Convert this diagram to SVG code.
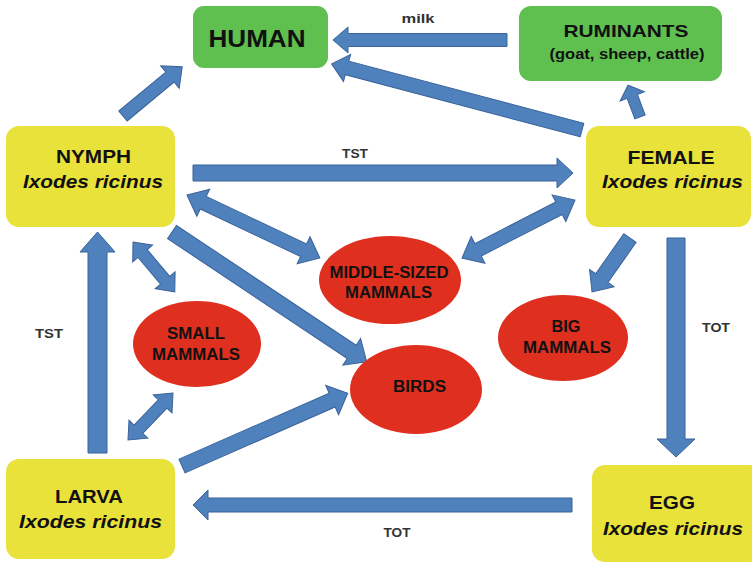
<svg xmlns="http://www.w3.org/2000/svg" width="752" height="564" viewBox="0 0 752 564">
  <style>
    .green { fill: #5fbf4f; }
    .yellow { fill: #e9e23a; }
    .red { fill: #de2f1f; }
    .arrow { fill: #4f81bd; stroke: #3a639a; stroke-width: 1; stroke-linejoin: miter; }
    text { font-family: "Liberation Sans", Arial, sans-serif; font-weight: bold; fill: #111; text-anchor: middle; }
    .title { font-size: 18px; }
    .species { font-size: 18px; font-style: italic; }
    .host { font-size: 16px; }
    .label { font-size: 13.5px; fill: #333; }
  </style>

  <rect width="752" height="564" fill="#ffffff"/>

  <!-- connectors: block arrows drawn along +x, then placed and rotated -->
  <g id="connectors">
    <!-- milk: ruminants to human -->
    <polygon class="arrow" transform="translate(507,40) rotate(180)" points="0,-6.5 159,-6.5 159,-13 174,0 159,13 159,6.5 0,6.5"/>
    <!-- female to human -->
    <polygon class="arrow" transform="translate(582,130) rotate(194.8)" points="0,-7 243,-7 243,-14 259,0 243,14 243,7 0,7"/>
    <!-- nymph to human -->
    <polygon class="arrow" transform="translate(123,116) rotate(-39.7)" points="0,-6.5 61,-6.5 61,-14.5 77,0 61,14.5 61,6.5 0,6.5"/>
    <!-- female to ruminants -->
    <polygon class="arrow" transform="translate(640,117) rotate(-110.6)" points="0,-5.5 22,-5.5 22,-13 34,0 22,13 22,5.5 0,5.5"/>
    <!-- TST: nymph to female -->
    <polygon class="arrow" transform="translate(193,173)" points="0,-8 364,-8 364,-15 380,0 364,15 364,8 0,8"/>
    <!-- nymph <-> middle-sized mammals -->
    <polygon class="arrow" transform="translate(187,195) rotate(25.35)" points="0,0 18,-15 18,-7 129,-7 129,-15 147,0 129,15 129,7 18,7 18,15"/>
    <!-- female <-> middle-sized mammals -->
    <polygon class="arrow" transform="translate(575,200) rotate(152.8)" points="0,0 18,-15 18,-7 109,-7 109,-15 127,0 109,15 109,7 18,7 18,15"/>
    <!-- nymph <-> small mammals -->
    <polygon class="arrow" transform="translate(133,242) rotate(50)" points="0,0 15,-13 15,-6 50,-6 50,-13 65,0 50,13 50,6 15,6 15,13"/>
    <!-- nymph to birds -->
    <polygon class="arrow" transform="translate(172,232) rotate(33.7)" points="0,-8 216,-8 216,-16 234,0 216,16 216,8 0,8"/>
    <!-- female to big mammals -->
    <polygon class="arrow" transform="translate(630,238) rotate(125.1)" points="0,-7.5 49,-7.5 49,-15 66,0 49,15 49,7.5 0,7.5"/>
    <!-- TOT: female to egg -->
    <polygon class="arrow" transform="translate(676,238) rotate(90)" points="0,-9 201,-9 201,-19 219,0 201,19 201,9 0,9"/>
    <!-- TOT: egg to larva -->
    <polygon class="arrow" transform="translate(572,505) rotate(180)" points="0,-7 364,-7 364,-15 379,0 364,15 364,7 0,7"/>
    <!-- TST: larva to nymph -->
    <polygon class="arrow" transform="translate(97.5,453) rotate(-90)" points="0,-9.5 201,-9.5 201,-17.5 221,0 201,17.5 201,9.5 0,9.5"/>
    <!-- larva <-> small mammals -->
    <polygon class="arrow" transform="translate(128,440) rotate(-46.2)" points="0,0 15,-13 15,-6 50,-6 50,-13 65,0 50,13 50,6 15,6 15,13"/>
    <!-- larva to birds -->
    <polygon class="arrow" transform="translate(182,466) rotate(-23.7)" points="0,-7.5 164,-7.5 164,-16 181,0 164,16 164,7.5 0,7.5"/>

    <text class="label" x="418" y="23" textLength="33" lengthAdjust="spacingAndGlyphs">milk</text>
    <text class="label" x="355" y="158" textLength="26" lengthAdjust="spacingAndGlyphs">TST</text>
    <text class="label" x="49" y="338" textLength="28" lengthAdjust="spacingAndGlyphs">TST</text>
    <text class="label" x="716" y="332" textLength="28" lengthAdjust="spacingAndGlyphs">TOT</text>
    <text class="label" x="397" y="537" textLength="27" lengthAdjust="spacingAndGlyphs">TOT</text>
  </g>

  <!-- hosts -->
  <g id="human">
    <rect class="green" x="193" y="6" width="135" height="62" rx="11"/>
    <text x="257" y="47" font-size="24" textLength="97" lengthAdjust="spacingAndGlyphs">HUMAN</text>
  </g>
  <g id="ruminants">
    <rect class="green" x="519" y="6" width="203" height="75" rx="12"/>
    <text x="626" y="37" font-size="17" textLength="125" lengthAdjust="spacingAndGlyphs">RUMINANTS</text>
    <text x="627" y="59" font-size="14" textLength="155" lengthAdjust="spacingAndGlyphs">(goat, sheep, cattle)</text>
  </g>

  <!-- tick stages -->
  <g id="nymph">
    <rect class="yellow" x="6" y="126" width="169" height="101" rx="13"/>
    <text class="title" x="93.5" y="163" textLength="75" lengthAdjust="spacingAndGlyphs">NYMPH</text>
    <text class="species" x="93" y="188" textLength="140" lengthAdjust="spacingAndGlyphs">Ixodes ricinus</text>
  </g>
  <g id="female">
    <rect class="yellow" x="586" y="126" width="165" height="101" rx="13"/>
    <text class="title" x="671" y="164" textLength="87" lengthAdjust="spacingAndGlyphs">FEMALE</text>
    <text class="species" x="672.5" y="188" textLength="141" lengthAdjust="spacingAndGlyphs">Ixodes ricinus</text>
  </g>
  <g id="larva">
    <rect class="yellow" x="6" y="459" width="169" height="100" rx="13"/>
    <text class="title" x="89" y="503" textLength="68" lengthAdjust="spacingAndGlyphs">LARVA</text>
    <text class="species" x="90.5" y="528" textLength="143" lengthAdjust="spacingAndGlyphs">Ixodes ricinus</text>
  </g>
  <g id="egg">
    <rect class="yellow" x="592" y="465" width="170" height="97" rx="13"/>
    <text class="title" x="672" y="509" textLength="46" lengthAdjust="spacingAndGlyphs">EGG</text>
    <text class="species" x="673" y="535" textLength="140" lengthAdjust="spacingAndGlyphs">Ixodes ricinus</text>
  </g>

  <!-- vertebrate host groups -->
  <g id="middle-sized-mammals">
    <ellipse class="red" cx="390" cy="280" rx="71" ry="44"/>
    <text class="host" x="389" y="278" textLength="119" lengthAdjust="spacingAndGlyphs">MIDDLE-SIZED</text>
    <text class="host" x="388.5" y="298" textLength="87" lengthAdjust="spacingAndGlyphs">MAMMALS</text>
  </g>
  <g id="small-mammals">
    <ellipse class="red" cx="197" cy="344" rx="64" ry="43"/>
    <text class="host" x="196" y="339" textLength="58" lengthAdjust="spacingAndGlyphs">SMALL</text>
    <text class="host" x="196" y="360" textLength="88" lengthAdjust="spacingAndGlyphs">MAMMALS</text>
  </g>
  <g id="birds">
    <ellipse class="red" cx="416" cy="389.5" rx="66" ry="44.5"/>
    <text class="host" x="419.5" y="392" textLength="53" lengthAdjust="spacingAndGlyphs">BIRDS</text>
  </g>
  <g id="big-mammals">
    <ellipse class="red" cx="563" cy="338" rx="65" ry="43"/>
    <text class="host" x="566" y="332" textLength="29" lengthAdjust="spacingAndGlyphs">BIG</text>
    <text class="host" x="567" y="353" textLength="88" lengthAdjust="spacingAndGlyphs">MAMMALS</text>
  </g>
</svg>
